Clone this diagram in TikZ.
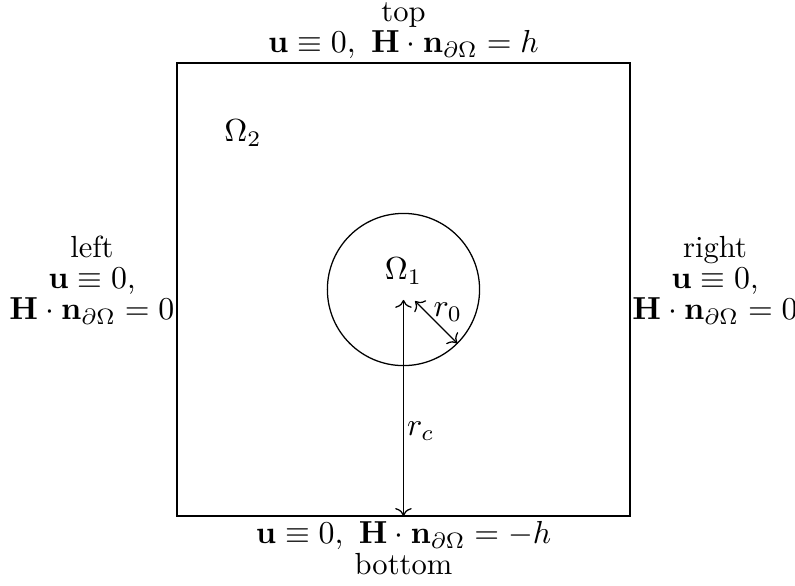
\documentclass[tikz,border=0pt]{standalone}
\usepackage{amsmath,amssymb}
\usepackage{tikz}
\usetikzlibrary{arrows.meta, positioning, calc}

\begin{document}
\begin{tikzpicture}[
    bc/.style={align=center, inner sep=0.6pt, font=\fontsize{9.6}{11.5}\selectfont},
    dim/.style={<->, thin}
]
    \useasboundingbox (-1.954,-0.762) rectangle (6.822,5.696);
    % Domain and inclusion
    \draw (0,0) rectangle (5,5);
    \coordinate (O) at (2.5,2.5);
    \draw (O) circle (0.84);
    \node (om1) at (2.5,2.7) {$\Omega_1$};
    \node (om2) at (0.73,4.23) {$\Omega_2$};
    % Radii
    \coordinate (rcA) at (2.5,2.385);
    \coordinate (rcB) at (2.5,0);
    \coordinate (roA) at (2.628,2.372);
    \coordinate (roB) at ($(O)+(-45:0.84)$);
    \draw[dim] (rcA) -- (rcB);
    \draw[dim] (roA) -- (roB);
    \node (rc) at (2.69,0.94) {$r_c$};
    \node (ro) at (2.99,2.25) {$r_0$};
    % Boundary conditions
    \node[bc, anchor=south] (top) at (2.5,5.02)
        {top\\[-1.8pt] $\mathbf{u}\equiv 0,\ \mathbf{H}\cdot\mathbf{n}_{\partial\Omega}=h$};
    \node[bc, anchor=north] (bottom) at (2.5,-0.03)
        {$\mathbf{u}\equiv 0,\ \mathbf{H}\cdot\mathbf{n}_{\partial\Omega}=-h$\\[-1.8pt] bottom};
    \node[bc, anchor=east] (left) at (0,2.6)
        {left\\[-1.8pt] $\mathbf{u}\equiv 0$,\\[-1.8pt] $\mathbf{H}\cdot\mathbf{n}_{\partial\Omega}=0$};
    \node[bc, anchor=west] (right) at (5,2.6)
        {right\\[-1.8pt] $\mathbf{u}\equiv 0$,\\[-1.8pt] $\mathbf{H}\cdot\mathbf{n}_{\partial\Omega}=0$};
\end{tikzpicture}
\end{document}
